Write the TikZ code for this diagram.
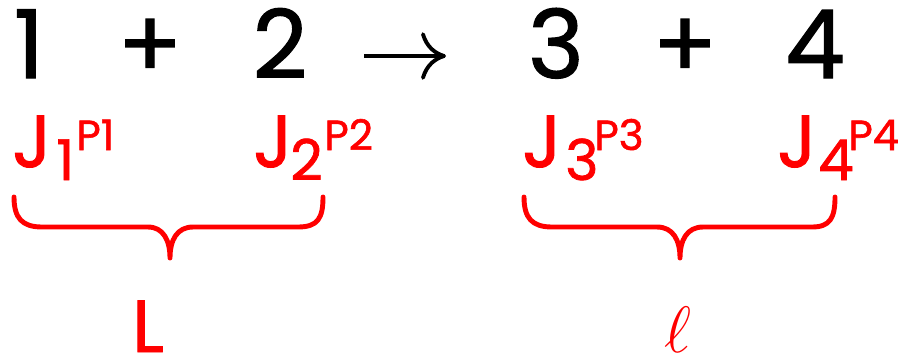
\documentclass[tikz,border=0pt]{standalone}
\usepackage{graphicx}
\usepackage{fontspec}
\setmainfont{Poppins}[FakeBold=1.3]
\usetikzlibrary{arrows.meta}
\begin{document}
\begin{tikzpicture}[x=0.02cm,y=-0.02cm,
  big/.style={font=\fontsize{54}{60}\selectfont, anchor=base, inner sep=0},
  jj/.style={text=red, font=\fontsize{42}{48}\selectfont, anchor=base west, inner sep=0},
  jsub/.style={text=red, font=\fontsize{32}{36}\selectfont, anchor=base west, inner sep=0},
  jsup/.style={text=red, font=\fontsize{24}{30}\selectfont, anchor=base west, inner sep=0},
  lab/.style={text=red, anchor=base, inner sep=0},
  brace/.style={red, line width=2.8pt, line cap=round, line join=round},
  arr/.style={line width=2.2pt, -{Computer Modern Rightarrow[length=0.5cm,width=0.95cm]}}]
\useasboundingbox (0,0) rectangle (898,360);
% reaction line
\node[big] (n1) at (29,78) {1};
\node[big] (p12) at (150,78) {+};
\node[big] (n2) at (280,78) {2};
\node[big] (n3) at (556,78) {3};
\node[big] (p34) at (685,78) {+};
\node[big] (n4) at (815,78) {4};
\coordinate (a1) at (364,56);
\coordinate (a2) at (446,56);
\draw[arr] (a1) -- (a2);
% spins
\node[jj] (j1) at (12,167) {J};
\node[jsub] (s1) at (56,180) {1};
\node[jsup] (q1) at (76,150) {P1};
\node[jj] (j2) at (253,167) {J};
\node[jsub] (s2) at (290,180) {2};
\node[jsup] (q2) at (324,150) {P2};
\node[jj] (j3) at (522,167) {J};
\node[jsub] (s3) at (565,180) {3};
\node[jsup] (q3) at (594,150) {P3};
\node[jj] (j4) at (777,167) {J};
\node[jsub] (s4) at (818,180) {4};
\node[jsup] (q4) at (848,150) {P4};
% braces
\draw[brace] (14,197) .. controls (14,218) and (22,227) .. (42,227) -- (148,227)
  .. controls (163,227) and (170,240) .. (170,258)
  .. controls (170,240) and (177,227) .. (193,227) -- (298,227)
  .. controls (318,227) and (323,218) .. (323,197);
\draw[brace] (524,197) .. controls (524,218) and (532,227) .. (552,227) -- (657,227)
  .. controls (673,227) and (680,240) .. (680,258)
  .. controls (680,240) and (687,227) .. (703,227) -- (812,227)
  .. controls (830,227) and (835,218) .. (835,197);
% labels
\node[lab, font=\fontsize{42}{48}\selectfont] (bigL) at (148,352) {L};
\node[lab, font=\fontsize{24}{28}\selectfont] (smallL) at (678,352) {\scalebox{1.5}{$\ell$}};
\end{tikzpicture}
\end{document}
